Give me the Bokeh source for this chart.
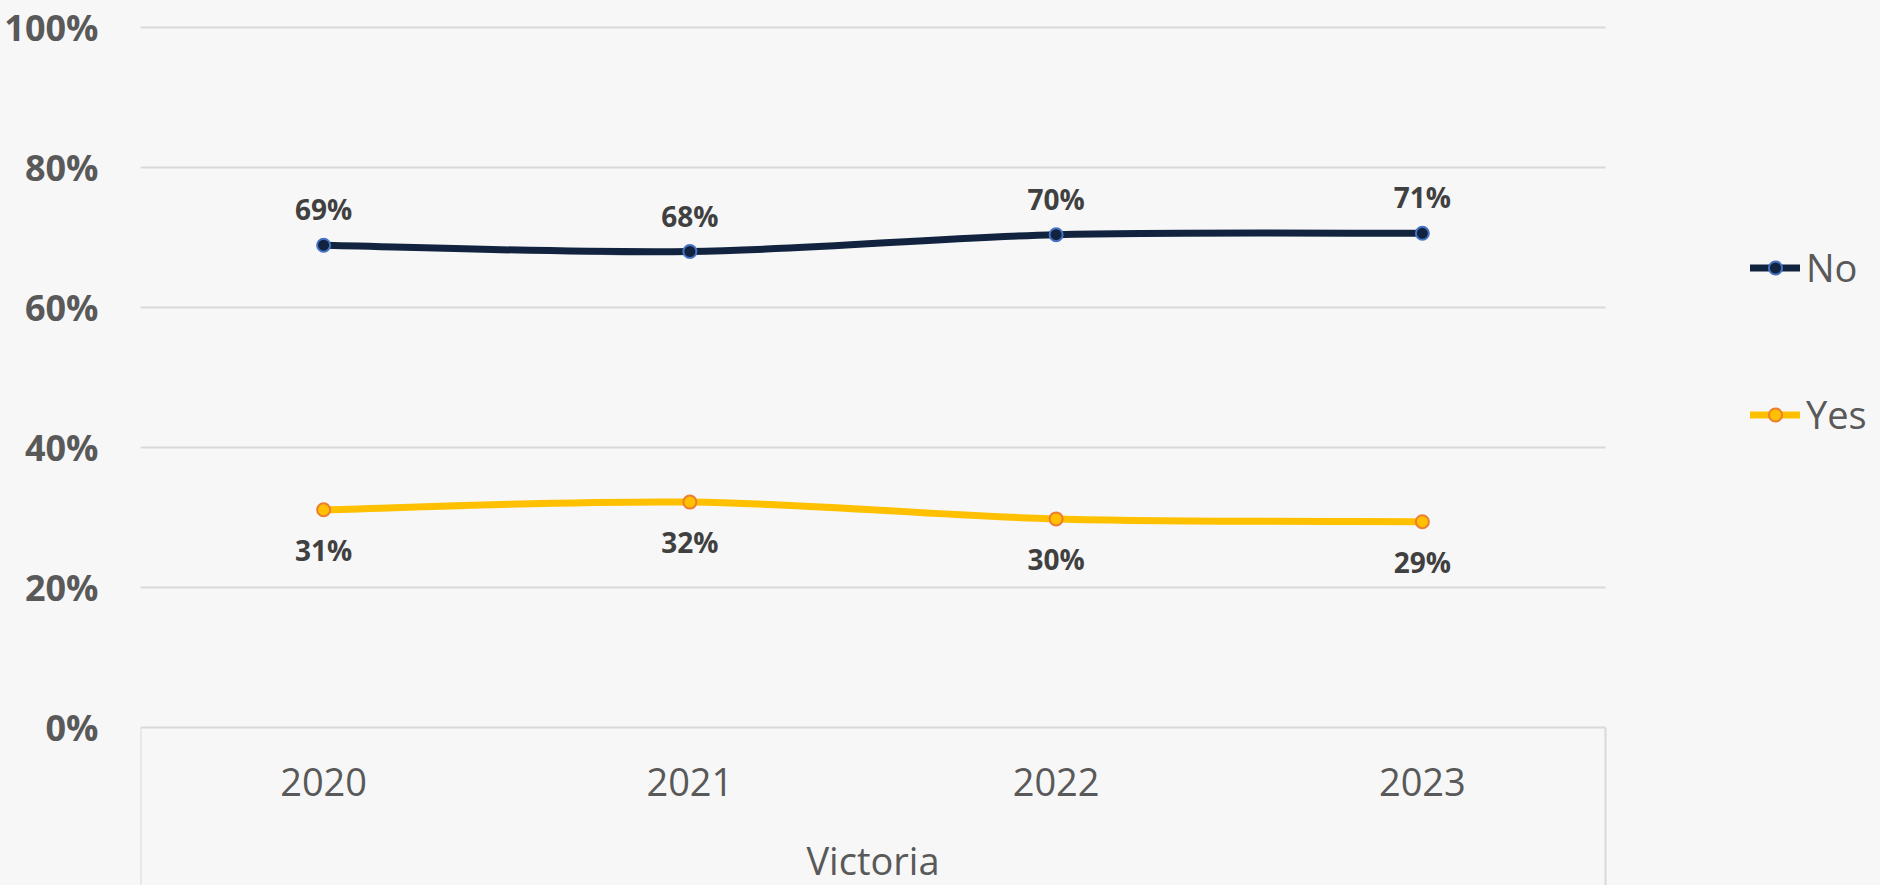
import numpy as np
from bokeh.plotting import figure
from bokeh.models import (ColumnDataSource, FixedTicker, Legend, LegendItem, LabelSet,
                          Label, PrintfTickFormatter, Range1d)
from bokeh.embed import file_html
from bokeh.resources import INLINE
from bokeh.core.properties import value

# ---------------- data ----------------
years = ["2020", "2021", "2022", "2023"]
no_vals = [68.9, 68.0, 70.4, 70.6]
yes_vals = [31.1, 32.2, 29.8, 29.4]
no_labels = ["69%", "68%", "70%", "71%"]
yes_labels = ["31%", "32%", "30%", "29%"]
y_ticks = [0, 20, 40, 60, 80, 100]
category_title = "Victoria"
series_names = ["No", "Yes"]

# ---------------- layout / style ----------------
W, H = 1880, 885
LEFT = 140                  # y-axis border
PLOT_W, PLOT_H = 1465, 700  # size of the gridded area in px
TOP_PAD = 27                # px above the 100% line
BG = "#F7F7F7"
GRID = "#D9D9D9"
AXIS_TXT = "#595959"
LBL_TXT = "#404040"
FONT = "Open Sans"
NO_LINE, NO_EDGE = "#12233F", "#4472C4"
YES_LINE, YES_EDGE = "#FFC000", "#ED7D31"

n = len(years)
xs = np.arange(n, dtype=float)
x_lo, x_hi = -0.5, n - 0.5
px_per_x = PLOT_W / (x_hi - x_lo)
px_per_y = PLOT_H / (y_ticks[-1] - y_ticks[0])
frame_w = W - LEFT
x_end = x_lo + frame_w / px_per_x
y_end = y_ticks[-1] + TOP_PAD / px_per_y
y_start = y_ticks[0] - (H - TOP_PAD - PLOT_H) / px_per_y

p = figure(width=W, height=H, output_backend="svg", toolbar_location=None,
           x_range=Range1d(x_lo, x_end), y_range=Range1d(y_start, y_end),
           min_border_left=LEFT, min_border_right=0, min_border_top=0, min_border_bottom=0,
           background_fill_color=BG, border_fill_color=BG)
p.outline_line_color = None
p.xaxis.visible = False
p.grid.visible = False

# y axis
p.yaxis.ticker = FixedTicker(ticks=y_ticks)
p.yaxis.formatter = PrintfTickFormatter(format="%d%%")
p.yaxis.axis_line_color = None
p.yaxis.major_tick_line_color = None
p.yaxis.minor_tick_line_color = None
p.yaxis.major_label_text_font = FONT
p.yaxis.major_label_text_font_size = "36px"
p.yaxis.major_label_text_font_style = "bold"
p.yaxis.major_label_text_color = AXIS_TXT
p.yaxis.major_label_standoff = 36

# horizontal gridlines (only across the category area)
p.segment(x0=x_lo, x1=x_hi, y0=y_ticks, y1=y_ticks, line_color=GRID, line_width=2)
# category box edges below the 0% line
p.segment(x0=[x_lo, x_hi], x1=[x_lo, x_hi], y0=y_start, y1=y_ticks[0],
          line_color=GRID, line_width=2)

# category labels
cat_src = ColumnDataSource(dict(x=xs, y=[y_ticks[0]] * n, t=years))
p.add_layout(LabelSet(x="x", y="y", text="t", source=cat_src, y_offset=-54,
                      text_align="center", text_baseline="middle",
                      text_font=value(FONT), text_font_size="38px", text_color=AXIS_TXT))
p.add_layout(Label(x=(x_lo + x_hi) / 2, y=y_ticks[0], y_offset=-132,
                   text=category_title, text_align="center", text_baseline="middle",
                   text_font=FONT, text_font_size="38px", text_color=AXIS_TXT))


def smooth_segments(x, y):
    x = np.asarray(x, float)
    y = np.asarray(y, float)
    xp = np.concatenate([[x[0]], x, [x[-1]]])
    yp = np.concatenate([[y[0]], y, [y[-1]]])
    m = len(x)
    d = {}
    d["x0"], d["y0"] = x[:-1], y[:-1]
    d["x1"], d["y1"] = x[1:], y[1:]
    d["cx0"] = x[:-1] + (xp[2:m + 1] - xp[0:m - 1]) / 6.0
    d["cy0"] = y[:-1] + (yp[2:m + 1] - yp[0:m - 1]) / 6.0
    d["cx1"] = x[1:] - (xp[3:m + 2] - xp[1:m]) / 6.0
    d["cy1"] = y[1:] - (yp[3:m + 2] - yp[1:m]) / 6.0
    return ColumnDataSource(d)


items = []
for name, vals, labels, lc, ec, off in [
        (series_names[0], no_vals, no_labels, NO_LINE, NO_EDGE, 36),
        (series_names[1], yes_vals, yes_labels, YES_LINE, YES_EDGE, -40)]:
    seg = smooth_segments(xs, vals)
    r_line = p.bezier(x0="x0", y0="y0", x1="x1", y1="y1", cx0="cx0", cy0="cy0",
                      cx1="cx1", cy1="cy1", source=seg, line_color=lc, line_width=7,
                      line_cap="round")
    pts = ColumnDataSource(dict(x=xs, y=vals, t=labels))
    r_pts = p.scatter("x", "y", source=pts, size=13, marker="circle", fill_color=lc,
                      line_color=ec, line_width=2)
    p.add_layout(LabelSet(x="x", y="y", text="t", source=pts, y_offset=off,
                          text_align="center", text_baseline="middle",
                          text_font=value(FONT), text_font_size="28px",
                          text_font_style="bold", text_color=LBL_TXT))
    items.append(LegendItem(label=name, renderers=[r_line, r_pts]))

legend = Legend(items=items, location=(1610, 445), orientation="vertical",
                glyph_width=50, glyph_height=33, label_height=52, spacing=95,
                label_standoff=6, padding=0, margin=0,
                border_line_color=None, background_fill_alpha=0,
                label_text_font=FONT, label_text_font_size="38px",
                label_text_color=AXIS_TXT)
p.add_layout(legend, "center")

html = file_html(p, INLINE)
html = html.replace("</head>", "<style>html, body {background:#F7F7F7;}</style></head>", 1)
open("out.html", "w").write(html)
